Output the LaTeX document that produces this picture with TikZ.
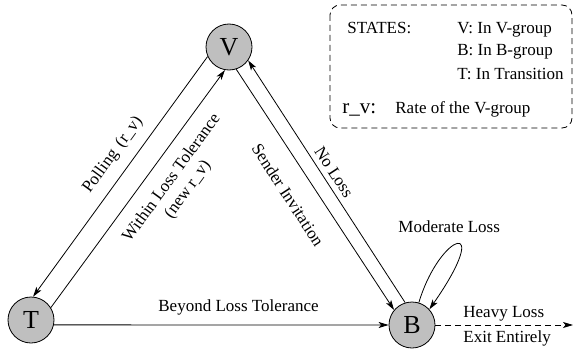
\documentclass[tikz,border=0pt]{standalone}
\usepackage{fontspec}
\setmainfont{Liberation Serif}
\usetikzlibrary{arrows.meta}
\begin{document}
\begin{tikzpicture}[x=1pt, y=-1pt, line width=0.8pt,
  state/.style={circle, draw, fill=gray!50, minimum size=46pt, inner sep=0pt,
                font=\fontsize{26}{28}\selectfont},
  lbl/.style={font=\fontsize{17}{20}\selectfont, inner sep=0pt},
  arr/.style={-{Stealth[length=10pt, width=6pt, inset=2.5pt]}},
  dashline/.style={dash pattern=on 6pt off 4pt}]
\useasboundingbox (0,0) rectangle (575,353);

% states
\node[state] (V) at (229,47)  {V};
\node[state] (T) at (31,320)  {T};
\node[state] (B) at (412,325) {B};

% transitions
\draw[arr] (V.204) -- (T.85);
\draw[arr] (T.32)  -- (V.260);
\draw[arr] (V.288) -- (B.140);
\draw[arr] (B.107) -- (V.325);
\draw[arr] (T.-12) -- (B.west);
\draw[arr] (B.73) .. controls (440,232) and (495,215) .. (B.42);
\coordinate (exit) at (573,325);
\draw[arr, dashline] (B.east) -- (exit);

% transition labels
\node[lbl, rotate=54] (lpoll) at (113,155) {Polling\hspace{0.4em}(r\_v)};
\node[lbl, rotate=54, align=center] (lwithin) at (180,184)
  {Within Loss Tolerance\\(new r\_v)};
\node[lbl, rotate=-57] (lsender) at (288,195) {Sender Invitation};
\node[lbl, rotate=-57] (lnoloss) at (334,172) {No Loss};
\node[lbl, anchor=base] (lbeyond) at (238.5,311) {Beyond Loss Tolerance};
\node[lbl, anchor=base west] (lmod) at (398,232) {Moderate Loss};
\node[lbl, anchor=base west] (lheavy) at (463,317) {Heavy Loss};
\node[lbl, anchor=base west] (lexit) at (463,342) {Exit Entirely};

% legend
\draw[dashline, rounded corners=10pt] (330,5) rectangle (572,128);
\node[lbl, anchor=base west] (kstates) at (347,34) {STATES:};
\node[lbl, anchor=base west] (kv) at (457,34) {V: In V-group};
\node[lbl, anchor=base west] (kb) at (457,56) {B: In B-group};
\node[lbl, anchor=base west] (kt) at (457,79) {T: In Transition};
\node[lbl, anchor=base west, font=\fontsize{21}{24}\selectfont] (krv) at (342,113) {r\_v:};
\node[lbl, anchor=base west] (krate) at (395,113) {Rate of the V-group};
\end{tikzpicture}
\end{document}
